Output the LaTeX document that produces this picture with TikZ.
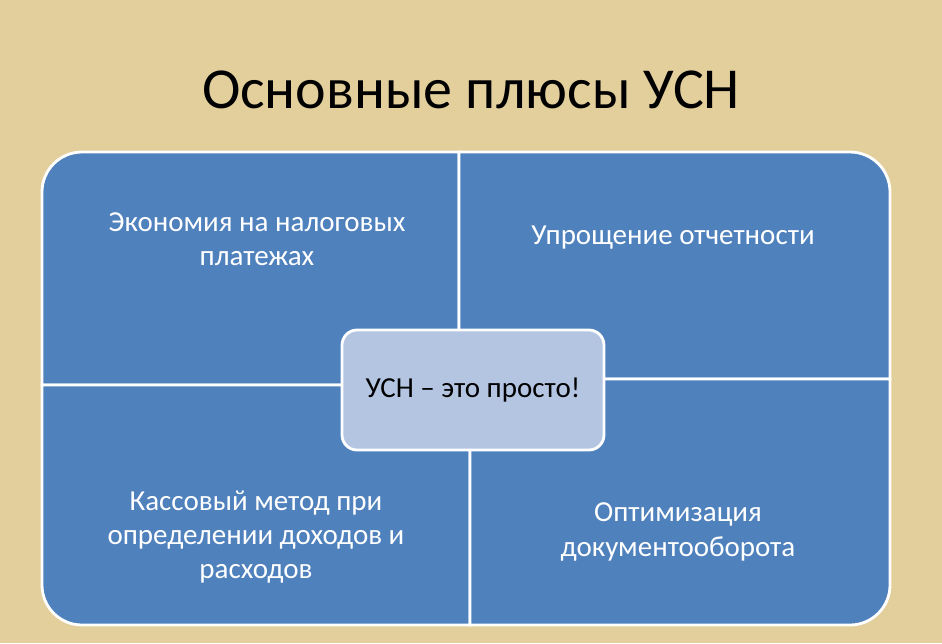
\documentclass[tikz,border=0pt]{standalone}
\usepackage{fontspec}
\setmainfont{Carlito}
\definecolor{bg}{HTML}{E3CF9C}
\definecolor{qblue}{HTML}{4F81BD}
\definecolor{cblue}{HTML}{B4C5E2}
\begin{document}
\begin{tikzpicture}[x=0.02cm,y=-0.02cm,
  quad/.style={fill=qblue,draw=white,line width=1.6pt},
  qtext/.style={text=white,align=center,font=\fontsize{16.5}{19.5}\selectfont},
  ctr/.style={fill=cblue,draw=white,line width=1.6pt,rounded corners=0.3cm,minimum width=5.24cm,minimum height=2.4cm,font=\fontsize{16.5}{19.5}\selectfont}]
\fill[bg] (0,0) rectangle (942,643);
\useasboundingbox (0,0) rectangle (942,643);
\node (title) at (471,90) {\fontsize{33}{40}\selectfont Основные плюсы УСН};
\path[quad] (42,385) [rounded corners=0.8cm] -- (42,152) [sharp corners] -- (459,152) -- (459,385) -- cycle;
\path[quad] (459,152) [rounded corners=0.8cm] -- (890,152) [sharp corners] -- (890,379) -- (459,379) -- cycle;
\path[quad] (42,385) -- (470,385) -- (470,625) [rounded corners=0.8cm] -- (42,625) [sharp corners] -- cycle;
\path[quad] (470,379) -- (890,379) [rounded corners=0.8cm] -- (890,625) [sharp corners] -- (470,625) -- cycle;
\node[qtext] (q1) at (257,239) {Экономия на налоговых\\платежах};
\node[qtext] (q2) at (673,238) {Упрощение отчетности};
\node[qtext] (q3) at (256,537) {Кассовый метод при\\определении доходов и\\расходов};
\node[qtext] (q4) at (678,532) {Оптимизация\\документооборота};
\node[ctr] (c) at (473,390) {УСН – это просто!};
\end{tikzpicture}
\end{document}
